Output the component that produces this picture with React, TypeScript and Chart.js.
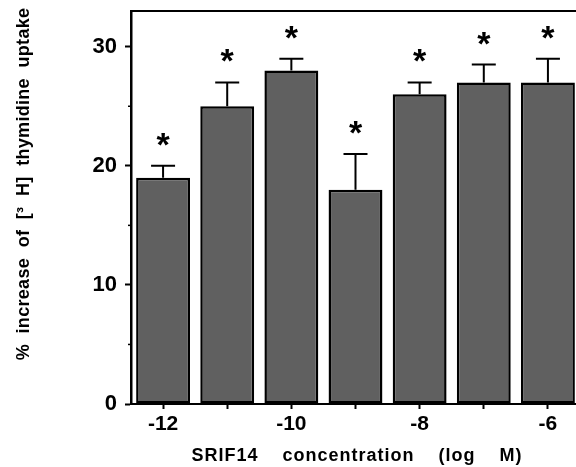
import React, { useEffect, useRef } from 'react';
import { Chart, registerables } from 'chart.js';

Chart.register(...registerables);

// ---- data ----
const concentrations = ['-12', '-11', '-10', '-9', '-8', '-7', '-6'];
const uptakeIncrease = [19, 25, 28, 18, 26, 27, 27];
const uptakeSEM = [1, 2, 1, 3, 1, 1.5, 2];
const significant = [true, true, true, true, true, true, true];
const labelledTicks = ['-12', '-10', '-8', '-6'];
const yMajorTicks = [0, 10, 20, 30];
const yMinorTicks = [5, 15, 25];
const yMax = 33;
const xTitle = 'SRIF14    concentration    (log    M)';
const yTitle = '%  increase  of  [\u00B3  H]  thymidine  uptake';

const FONT = '"Liberation Sans", Arial, Helvetica, sans-serif';

const overlay = {
  id: 'overlay',
  afterDatasetsDraw(chart: any) {
    const ctx = chart.ctx;
    const ys = chart.scales.y;
    const area = chart.chartArea;
    const meta = chart.getDatasetMeta(0);
    ctx.save();
    ctx.strokeStyle = '#000';
    ctx.fillStyle = '#000';
    // top frame
    ctx.lineWidth = 2;
    ctx.beginPath();
    ctx.moveTo(area.left, area.top);
    ctx.lineTo(area.right, area.top);
    ctx.stroke();
    // minor y ticks
    ctx.lineWidth = 1.5;
    yMinorTicks.forEach((v) => {
      const py = ys.getPixelForValue(v);
      ctx.beginPath();
      ctx.moveTo(area.left - 3, py);
      ctx.lineTo(area.left, py);
      ctx.stroke();
    });
    // error bars + stars
    meta.data.forEach((bar: any, i: number) => {
      const top = uptakeIncrease[i] + uptakeSEM[i];
      const pTop = ys.getPixelForValue(top);
      const pVal = ys.getPixelForValue(uptakeIncrease[i]);
      ctx.lineWidth = 2;
      ctx.beginPath();
      ctx.moveTo(bar.x, pVal);
      ctx.lineTo(bar.x, pTop);
      ctx.moveTo(bar.x - 12, pTop);
      ctx.lineTo(bar.x + 12, pTop);
      ctx.stroke();
      if (significant[i]) {
        ctx.font = `bold 34px ${FONT}`;
        ctx.textAlign = 'center';
        ctx.textBaseline = 'alphabetic';
        ctx.fillText('*', bar.x, pTop - 29 + 19);
      }
    });
    ctx.restore();
  },
  afterDraw(chart: any) {
    const ctx = chart.ctx;
    const area = chart.chartArea;
    ctx.save();
    ctx.fillStyle = '#000';
    ctx.font = `bold 18px ${FONT}`;
    (ctx as any).letterSpacing = '1px';
    ctx.textAlign = 'center';
    ctx.textBaseline = 'middle';
    ctx.fillText(xTitle, area.left + 226, area.bottom + 52);
    ctx.translate(24, area.top + 173);
    ctx.rotate(-Math.PI / 2);
    ctx.font = `bold 18px ${FONT}`;
    (ctx as any).letterSpacing = '0.3px';
    ctx.fillText(yTitle, 0, 0);
    ctx.restore();
  },
};

export default function App() {
  const ref = useRef<HTMLCanvasElement>(null);
  useEffect(() => {
    const canvas = ref.current!;
    const chart = new Chart(canvas, {
      type: 'bar',
      data: {
        labels: concentrations,
        datasets: [
          {
            data: uptakeIncrease,
            backgroundColor: '#606060',
            borderColor: '#000',
            borderWidth: 2.5,
            borderSkipped: false,
            categoryPercentage: 1,
            barPercentage: 0.84,
          },
        ],
      },
      options: {
        animation: false,
        responsive: false,
        events: [],
        layout: { padding: { top: 11, right: 20, left: 0, bottom: 0 } },
        plugins: { legend: { display: false }, tooltip: { enabled: false } },
        scales: {
          x: {
            type: 'category',
            offset: true,
            grid: {
              offset: false,
              drawOnChartArea: false,
              tickLength: 5,
              tickWidth: 2,
              tickColor: '#000',
            },
            border: { color: '#000', width: 2 },
            ticks: {
              autoSkip: false,
              maxRotation: 0,
              color: '#000',
              padding: 3,
              font: { family: FONT, size: 21, weight: 'bold' },
              callback: (v: any, i: number) =>
                labelledTicks.includes(concentrations[i]) ? concentrations[i] : '',
            },
            afterFit: (s: any) => {
              s.height = 63;
              s.paddingLeft = 0;
              s.paddingRight = 0;
            },
          },
          y: {
            min: 0,
            max: yMax,
            grid: {
              drawOnChartArea: false,
              tickLength: 6,
              tickWidth: 2,
              tickColor: '#000',
            },
            border: { color: '#000', width: 2.5 },
            ticks: {
              stepSize: 10,
              includeBounds: false,
              color: '#000',
              padding: 8,
              font: { family: FONT, size: 22, weight: 'bold' },
              callback: (v: any) => (yMajorTicks.includes(v) ? String(v) : ''),
            },
            afterFit: (s: any) => {
              s.width = 131;
              s.paddingTop = 0;
              s.paddingBottom = 0;
            },
          },
        },
      },
      plugins: [overlay],
    });
    return () => chart.destroy();
  }, []);
  return (
    <div
      style={{
        position: 'fixed',
        left: 0,
        top: 0,
        width: 576,
        height: 467,
        overflow: 'hidden',
        background: '#fff',
      }}
    >
      <canvas ref={ref} width={600} height={467} style={{ display: 'block' }} />
    </div>
  );
}
